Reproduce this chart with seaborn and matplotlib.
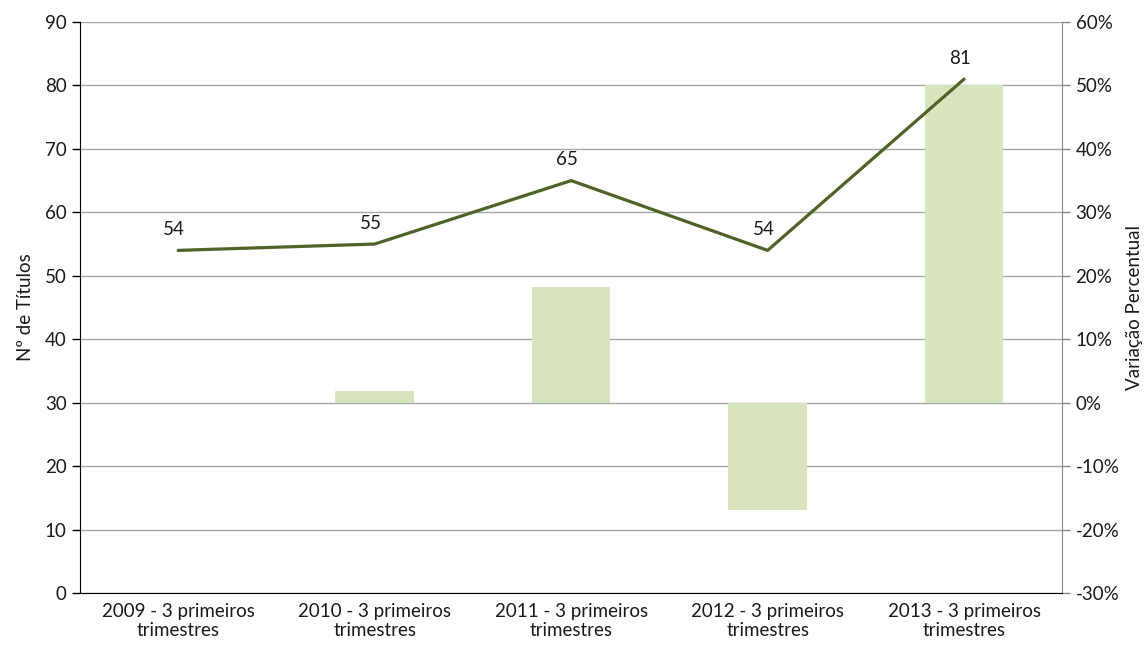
import numpy as np
import pandas as pd
import matplotlib
matplotlib.use("Agg")
import matplotlib.pyplot as plt
import seaborn as sns
from matplotlib.ticker import MultipleLocator, FuncFormatter

categories = ["2009 - 3 primeiros\ntrimestres", "2010 - 3 primeiros\ntrimestres",
              "2011 - 3 primeiros\ntrimestres", "2012 - 3 primeiros\ntrimestres",
              "2013 - 3 primeiros\ntrimestres"]
titulos = [54, 55, 65, 54, 81]
variacao = [0.0, 1.85, 18.18, -16.92, 50.0]  # %

sns.set_style("white")
plt.rcParams["font.family"] = ["Lato", "DejaVu Sans"]
plt.rcParams["text.color"] = "#1a1a1a"
plt.rcParams["axes.labelcolor"] = "#1a1a1a"
plt.rcParams["xtick.labelcolor"] = "#1a1a1a"
plt.rcParams["ytick.labelcolor"] = "#1a1a1a"

df = pd.DataFrame({"cat": categories, "titulos": titulos, "var": variacao})
x = np.arange(len(categories))
fs = 13.5

fig = plt.figure(figsize=(11.47, 6.47), dpi=100)
ax = fig.add_axes([0.0697, 0.0835, 0.8565, 0.8825])
ax2 = ax.twinx()

# bars on the secondary axis (percent change)
ax2.bar(x, df["var"], width=0.4, color="#D7E4BD", linewidth=0, zorder=2)
ax2.set_ylim(-30, 60)
ax2.yaxis.set_major_locator(MultipleLocator(10))
ax2.yaxis.set_major_formatter(FuncFormatter(lambda v, p: f"{v:.0f}%"))
ax2.grid(axis="y", color="#A6A6A6", linewidth=1, zorder=0)
ax2.set_axisbelow(True)
ax2.set_ylabel("Variação Percentual", fontsize=fs, labelpad=5)

# line on the primary axis
ax.set_zorder(ax2.get_zorder() + 1)
ax.patch.set_visible(False)
sns.lineplot(x=x, y=df["titulos"], ax=ax, color="#4F6228", linewidth=2.3, zorder=3)
for xi, v in zip(x, titulos):
    ax.annotate(str(v), (xi, v), xytext=(-3, 9), textcoords="offset points",
                ha="center", va="bottom", fontsize=fs)
ax.set_ylim(0, 90)
ax.yaxis.set_major_locator(MultipleLocator(10))
ax.set_ylabel("Nº de Títulos", fontsize=fs, labelpad=8)
ax.set_xlim(-0.5, 4.5)
ax.set_xticks(x)
ax.set_xticklabels(categories, fontsize=fs)
ax.set_xticks(np.arange(-0.5, 5, 1), minor=True)
ax.tick_params(axis="x", which="major", length=0, pad=7)
ax.tick_params(axis="x", which="minor", length=6, width=1, color="black")
ax.tick_params(axis="y", length=6, width=1, color="black", labelsize=fs, left=True)
ax2.tick_params(axis="y", length=6, width=1, color="#868686", labelsize=fs, right=True)

ax.spines["top"].set_visible(False)
ax2.spines["top"].set_visible(False)
ax.spines["right"].set_visible(False)
ax2.spines["left"].set_visible(False)
ax2.spines["bottom"].set_visible(False)
ax.spines["left"].set_color("black")
ax.spines["bottom"].set_color("black")
ax2.spines["right"].set_color("#868686")

fig.savefig("out.png", dpi=100)
